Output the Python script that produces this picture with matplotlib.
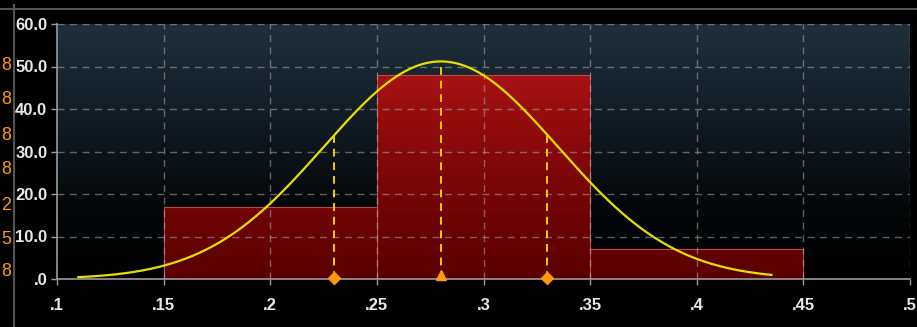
import numpy as np
import matplotlib
matplotlib.use("Agg")
import matplotlib.pyplot as plt
from matplotlib.colors import LinearSegmentedColormap

# ---- data ----
bin_edges = [0.15, 0.25, 0.35, 0.45]
bin_heights = [17.0, 48.0, 7.0]
fit_mean = 0.28
fit_sd = 0.055
fit_peak = 51.2
fit_range = [0.11, 0.435]
marker_x = [0.23, 0.28, 0.33]
marker_kind = ["D", "^", "D"]
x_ticks = [0.1, 0.15, 0.2, 0.25, 0.3, 0.35, 0.4, 0.45, 0.5]
x_labels = [".1", ".15", ".2", ".25", ".3", ".35", ".4", ".45", ".5"]
y_ticks = [0, 10, 20, 30, 40, 50, 60]
y_labels = [".0", "10.0", "20.0", "30.0", "40.0", "50.0", "60.0"]
cut_labels = ["8", "8", "8", "8", "2", "5", "8"]

W, H = 917, 327
fig = plt.figure(figsize=(W / 100, H / 100), dpi=100, facecolor="black")
ax = fig.add_axes([57 / W, (H - 279) / H, (910 - 57) / W, (279 - 24) / H])
ax.set_facecolor("black")
ax.set_xlim(0.1, 0.5)
ax.set_ylim(0, 60)

# background gradient
bg = LinearSegmentedColormap.from_list(
    "bg", [(0, "#000000"), (0.3, "#05080a"), (0.7, "#14202a"), (1, "#1f2f3a")])
grad = np.linspace(0, 1, 256).reshape(-1, 1)
ax.imshow(grad, cmap=bg, extent=[0.1, 0.5, 0, 60], origin="lower",
          aspect="auto", zorder=0)

# bars with gradient fill
redmap = LinearSegmentedColormap.from_list(
    "red", [(0, "#5a0000"), (0.4, "#7c0606"), (0.8, "#a81212"), (1, "#b81818")])
lefts = bin_edges[:-1]
widths = np.diff(bin_edges)
bars = ax.bar(lefts, bin_heights, width=widths, align="edge",
              facecolor="none", edgecolor="#c04848", linewidth=0.8, zorder=3)
for b in bars:
    im = ax.imshow(grad, cmap=redmap, extent=[0.1, 0.5, 0, 60], origin="lower",
                   aspect="auto", zorder=2)
    im.set_clip_path(b)

# grid
for xt in x_ticks[1:]:
    ax.axvline(xt, color="#a8a8a8", lw=1.0, ls=(0, (5, 4)), alpha=0.55, zorder=4)
for yt in y_ticks[1:]:
    ax.axhline(yt, color="#a8a8a8", lw=1.0, ls=(0, (5, 4)), alpha=0.55, zorder=4)

# fitted normal curve
xs = np.linspace(fit_range[0], fit_range[1], 300)
ys = fit_peak * np.exp(-0.5 * ((xs - fit_mean) / fit_sd) ** 2)
ax.plot(xs, ys, color="#e6df00", lw=1.6, zorder=6)

for mx, mk in zip(marker_x, marker_kind):
    my = fit_peak * np.exp(-0.5 * ((mx - fit_mean) / fit_sd) ** 2)
    ax.plot([mx, mx], [0, my], color="#f0d000", lw=1.4, ls=(0, (4, 3)), zorder=6)
    ax.plot([mx], [0.9 if mk == "^" else 0.2], marker=mk, color="#ff9a10",
            markersize=7 if mk == "^" else 6, clip_on=False, zorder=7)

# spines / ticks
for s in ["top", "right"]:
    ax.spines[s].set_visible(False)
for s in ["left", "bottom"]:
    ax.spines[s].set_color("#9a9a9a")
    ax.spines[s].set_linewidth(1.2)
    ax.spines[s].set_zorder(5)
ax.set_xticks(x_ticks)
ax.set_xticklabels(x_labels)
ax.set_yticks(y_ticks)
ax.set_yticklabels(y_labels)
ax.tick_params(axis="both", colors="#9a9a9a", length=4, width=1.0,
               labelcolor="#e8e8e8", labelsize=12)
ax.tick_params(axis="x", pad=10)
ax.tick_params(axis="y", pad=3)
for lab in ax.get_xticklabels() + ax.get_yticklabels():
    lab.set_family(["Liberation Sans", "DejaVu Sans"])
    lab.set_fontweight("bold")

# frame lines of the outer panel
fig.add_artist(plt.Line2D([14 / W, 14 / W], [0, 1 - 5 / H], transform=fig.transFigure,
                          color="#555555", lw=1.5))
fig.add_artist(plt.Line2D([0, 1], [1 - 9 / H, 1 - 9 / H], transform=fig.transFigure,
                          color="#555555", lw=1.5))

# orange labels at the far left
cut_y = [65, 100, 135, 170, 205, 240, 272]
for t, yp in zip(cut_labels, cut_y):
    fig.text(6.5 / W, 1 - yp / H, t, color="#ff9a00", fontsize=13,
             ha="center", va="center", family=["Liberation Sans", "DejaVu Sans"])

fig.savefig("out.png", dpi=100, facecolor="black")
